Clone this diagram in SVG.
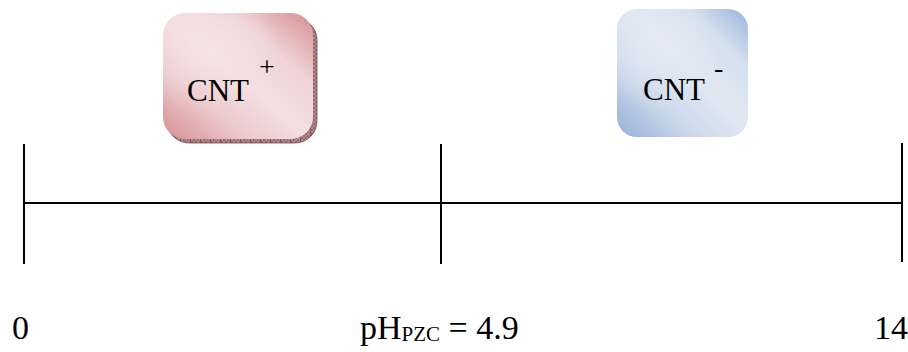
<svg xmlns="http://www.w3.org/2000/svg" width="908" height="352" viewBox="0 0 908 352">
  <style>
    .axis { stroke: #000; stroke-width: 2; fill: none; }
    .lbl { font-family: "Liberation Serif", "Times New Roman", serif; fill: #000; }
    .big { font-size: 31px; }
    .num { font-size: 34px; }
  </style>
  <defs>
    <linearGradient id="redGrad" x1="0" y1="1" x2="1" y2="0">
      <stop offset="0" stop-color="#d48f94"/>
      <stop offset="0.28" stop-color="#ecc9cc"/>
      <stop offset="0.5" stop-color="#f3dfe1"/>
      <stop offset="0.72" stop-color="#efd3d5"/>
      <stop offset="1" stop-color="#d68e93"/>
    </linearGradient>
    <radialGradient id="redGlow" cx="0.3" cy="0.3" r="0.5">
      <stop offset="0" stop-color="#f6e6e7" stop-opacity="0.7"/>
      <stop offset="1" stop-color="#f6e6e7" stop-opacity="0"/>
    </radialGradient>
    <linearGradient id="blueGrad" x1="0" y1="1" x2="1" y2="0">
      <stop offset="0" stop-color="#93afd9"/>
      <stop offset="0.3" stop-color="#cdd9eb"/>
      <stop offset="0.55" stop-color="#e0e8f2"/>
      <stop offset="0.78" stop-color="#d4deed"/>
      <stop offset="1" stop-color="#98b3da"/>
    </linearGradient>
    <radialGradient id="blueGlow" cx="0.3" cy="0.3" r="0.5">
      <stop offset="0" stop-color="#e6ecf4" stop-opacity="0.7"/>
      <stop offset="1" stop-color="#e6ecf4" stop-opacity="0"/>
    </radialGradient>
    <pattern id="hatch" width="10" height="4" patternUnits="userSpaceOnUse">
      <rect width="10" height="4" fill="#b98c8f"/>
      <path d="M0,0 L4,4 M4,0 L0,4 M4,0 L8,4 M8,0 L4,4 M8,0 L12,4" stroke="#7a4e52" stroke-width="0.6"/>
      <line x1="0" y1="0" x2="0" y2="4" stroke="#5a3236" stroke-width="1"/>
    </pattern>
  </defs>

  <g id="connectors">
    <line class="axis" x1="24" y1="203" x2="902" y2="203"/>
    <line class="axis" x1="24" y1="144" x2="24" y2="264"/>
    <line class="axis" x1="441" y1="144" x2="441" y2="264"/>
    <line class="axis" x1="902" y1="143" x2="902" y2="262"/>
  </g>

  <g id="cnt-plus">
    <rect x="167" y="18" width="150" height="125" rx="22" fill="url(#hatch)" stroke="#6e4a4d" stroke-width="0.8"/>
    <rect x="163" y="13" width="150" height="126" rx="22" fill="url(#redGrad)"/>
    <rect x="163" y="13" width="150" height="126" rx="22" fill="url(#redGlow)"/>
    <text class="lbl big" x="187" y="101">CNT</text>
    <text class="lbl" x="259" y="76" font-size="28">+</text>
  </g>

  <g id="cnt-minus">
    <rect x="617" y="9" width="131" height="128" rx="20" fill="url(#blueGrad)"/>
    <rect x="617" y="9" width="131" height="128" rx="20" fill="url(#blueGlow)"/>
    <text class="lbl big" x="643" y="100">CNT</text>
    <text class="lbl" x="714" y="77" font-size="28">-</text>
  </g>

  <g id="label-0">
    <text class="lbl num" x="12" y="339">0</text>
  </g>
  <g id="label-pzc">
    <text class="lbl num" x="360" y="339">pH<tspan font-size="21" dy="2">PZC</tspan><tspan dy="-2"> = 4.9</tspan></text>
  </g>
  <g id="label-14">
    <text class="lbl num" x="874" y="339">14</text>
  </g>
</svg>
